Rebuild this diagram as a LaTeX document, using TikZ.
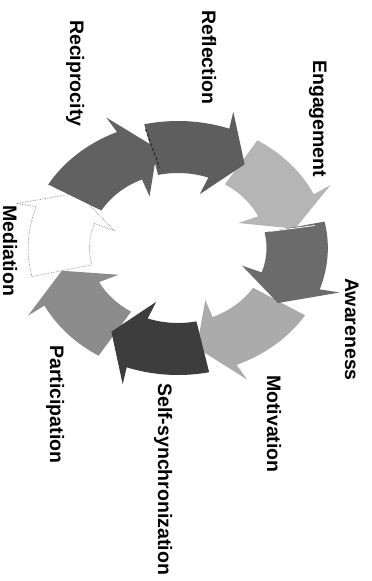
\documentclass[tikz,border=0pt]{standalone}
\usepackage{fontspec}
\setmainfont{Liberation Sans}
\tikzset{
  lbl/.style={font=\bfseries\fontsize{19.5}{22}\selectfont, rotate=-90, anchor=base west, inner sep=0pt, text=black},
  arrReflection/.style={fill=black!63},
  arrEngagement/.style={fill=black!29},
  arrAwareness/.style={fill=black!58},
  arrMotivation/.style={fill=black!33},
  arrSync/.style={fill=black!76},
  arrParticipation/.style={fill=black!45},
  arrMediation/.style={fill=white, draw=black!45, densely dotted, line width=0.7pt},
  arrReciprocity/.style={fill=black!62},
  tailedge/.style={line width=1pt, densely dashed},
}
% #1 tail angle, #2 barb angle, #3 style
\newcommand\ringarrow[3]{%
  \path[#3] (#1:127) arc[start angle=#1, end angle=#2, radius=127]
    -- ({#2+1}:144) -- ({#2-14}:101) -- ({#2+1}:57) -- (#2:75)
    arc[start angle=#2, end angle=#1, radius=75] -- cycle;}
\begin{document}
\begin{tikzpicture}[x=1pt,y=1pt]
\useasboundingbox (0,0) rectangle (372,-581);
\begin{scope}[shift={(178,-248)}, xscale=1.18]
  \ringarrow{-167}{-199}{arrMediation}
  \ringarrow{58}{25}{arrEngagement}
  \ringarrow{-32}{-67}{arrMotivation}
  \ringarrow{-122}{-153}{arrParticipation}
  \ringarrow{150}{114}{arrReciprocity}
  \ringarrow{103}{70}{arrReflection}
  \draw[tailedge, black!85] (103:122) -- (101:82);
  \ringarrow{12}{-19}{arrAwareness}
  \draw[line width=0.8pt, white] (12:80) -- (11:118);
  \ringarrow{-78}{-110}{arrSync}
\end{scope}
\node[lbl] (reflection) at (202,-10) {Reflection};
\node[lbl] (engagement) at (313,-60) {Engagement};
\node[lbl] (reciprocity) at (70,-20) {Reciprocity};
\node[lbl] (mediation) at (3,-205) {Mediation};
\node[lbl] (awareness) at (345,-278) {Awareness};
\node[lbl] (motivation) at (267,-375) {Motivation};
\node[lbl] (sync) at (158,-383) {Self-synchronization};
\node[lbl] (participation) at (50,-345) {Participation};
\end{tikzpicture}
\end{document}
